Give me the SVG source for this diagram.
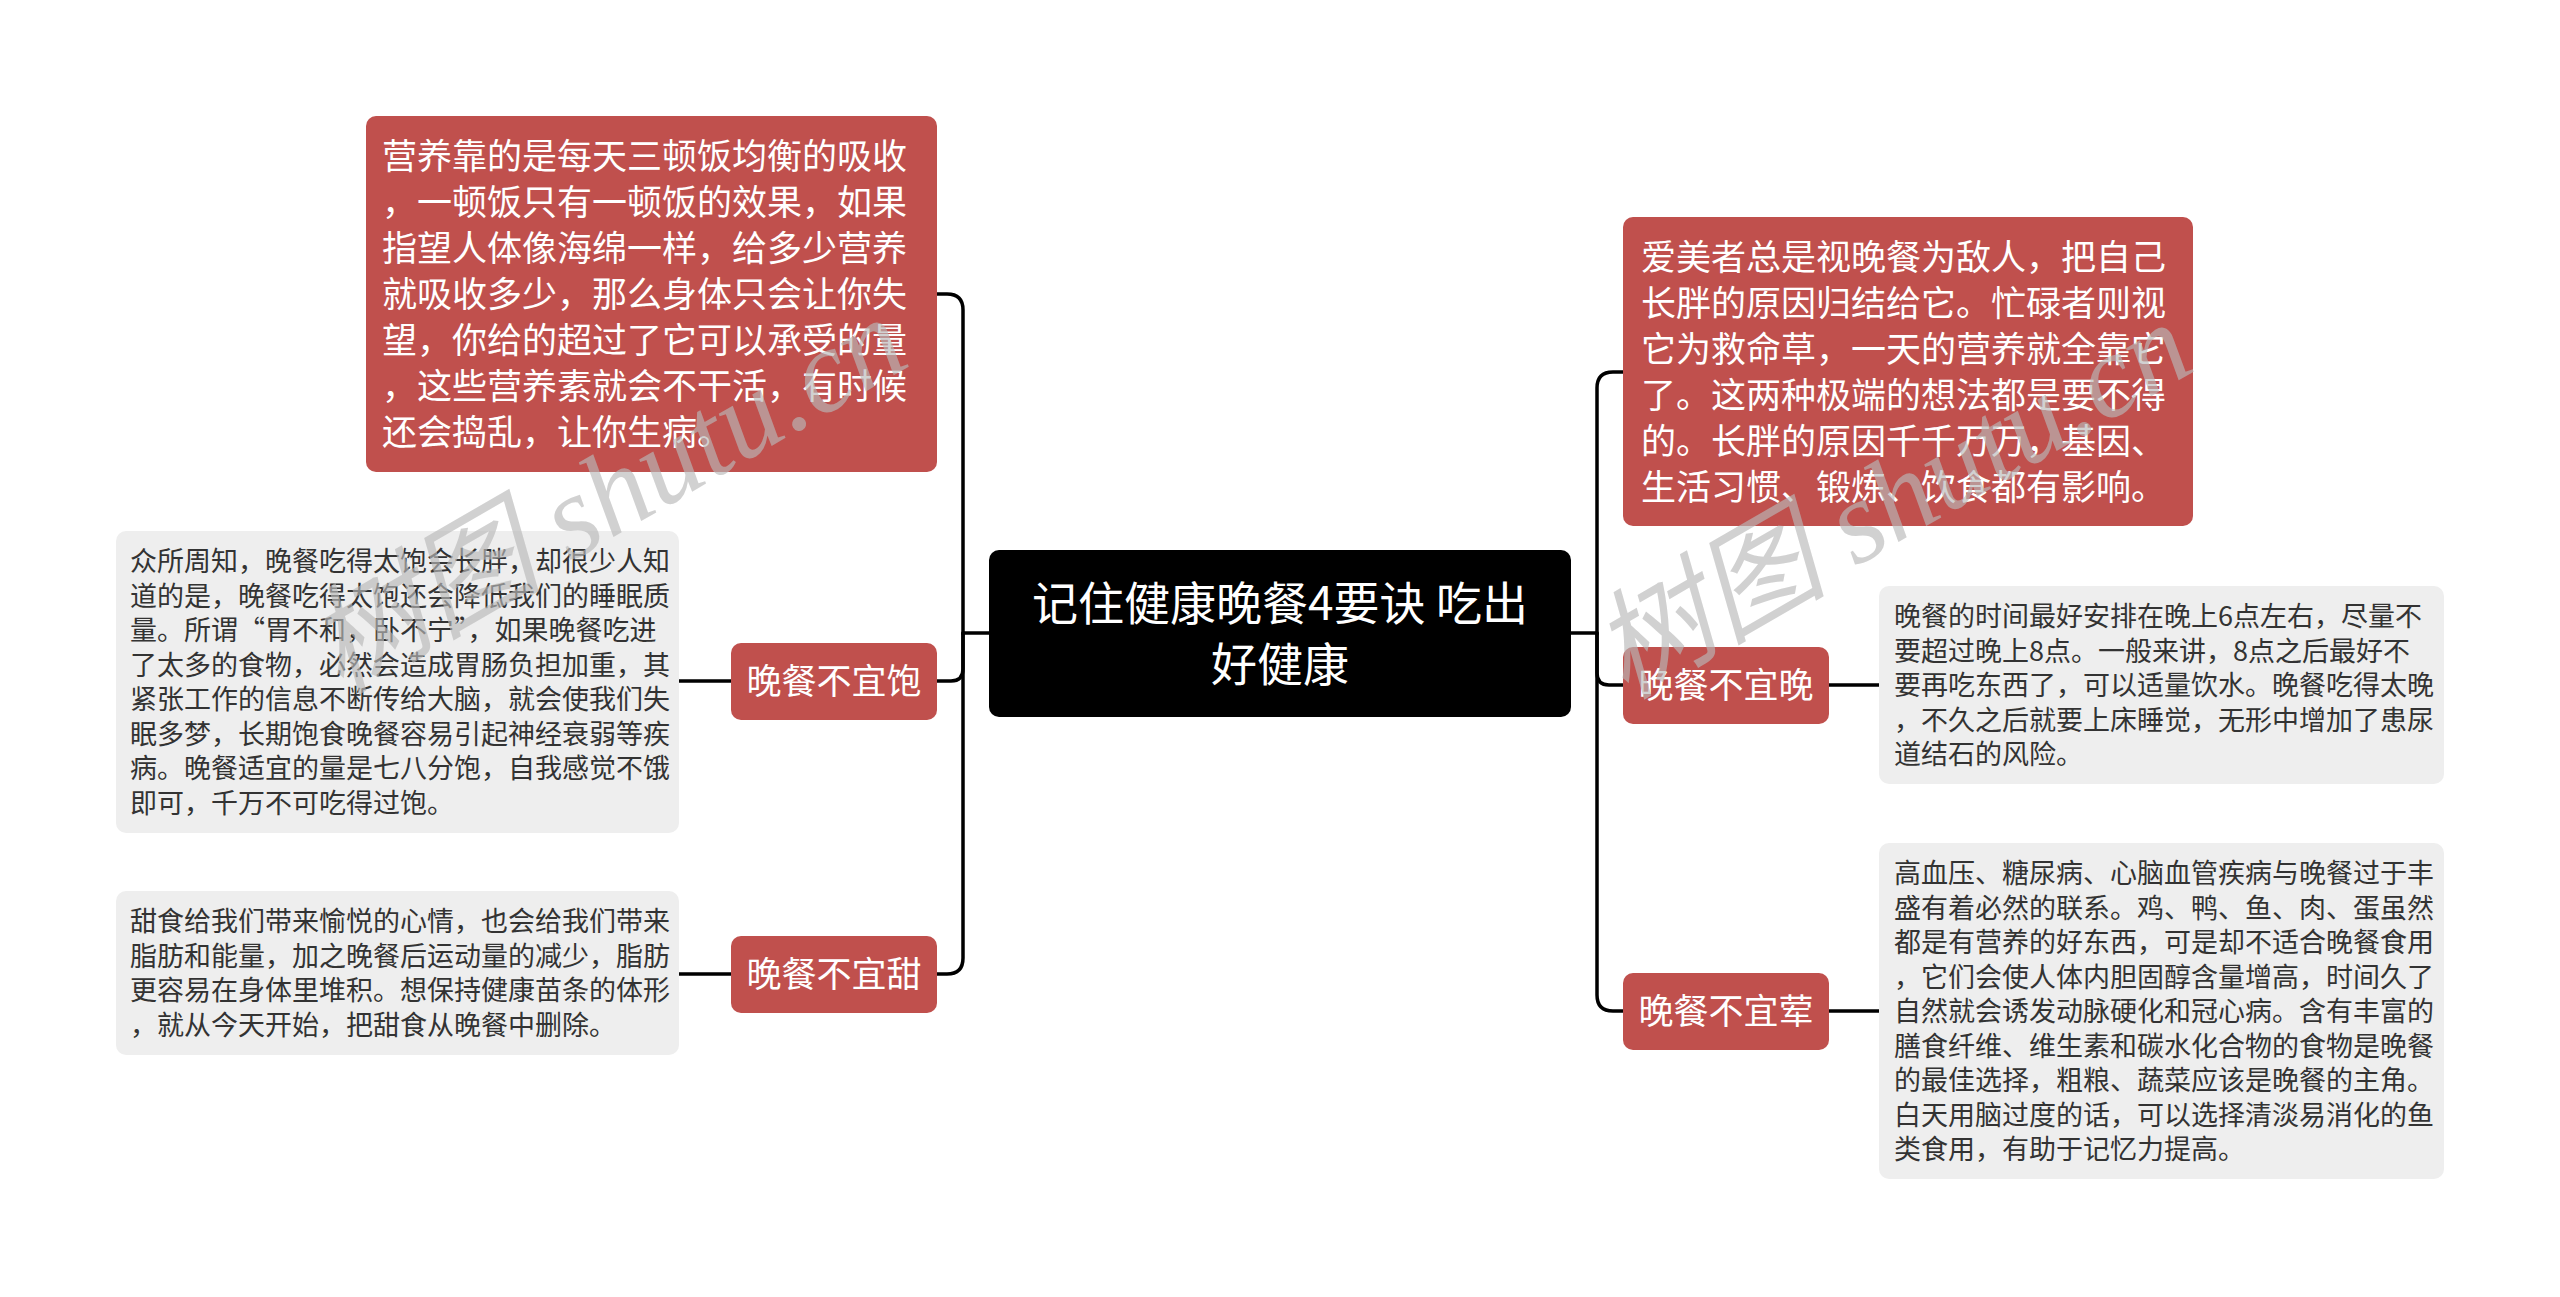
<svg xmlns="http://www.w3.org/2000/svg" width="2560" height="1297" viewBox="0 0 2560 1297">
<style>
.red{fill:#C0504D}
.gray{fill:#EEEEEE}
.root{fill:#000000}
.t{font-family:"Noto Sans CJK SC","Noto Sans",sans-serif}
.tr{fill:#FFFFFF;font-size:35px}
.tg{fill:#333333;font-size:27px}
.tc{fill:#FFFFFF;font-size:46px}
.conn{fill:none;stroke:#000000;stroke-width:3.5;stroke-linecap:round}
.wm{font-family:"Liberation Serif","Noto Sans CJK SC",serif;font-style:italic;font-size:118px;fill:#b8b8b8;fill-opacity:0.65}
</style>
<rect x="0" y="0" width="2560" height="1297" fill="#FFFFFF"/>
<g id="connectors">
<path class="conn" d="M989,633 H963 V310 Q963,294 947,294 H937"/>
<path class="conn" d="M963,633 V669 Q963,681 951,681 H937"/>
<path class="conn" d="M963,633 V958 Q963,974 947,974 H937"/>
<path class="conn" d="M1571,633 H1597 V388 Q1597,372 1613,372 H1623"/>
<path class="conn" d="M1597,633 V673 Q1597,685 1609,685 H1623"/>
<path class="conn" d="M1597,633 V995 Q1597,1011 1613,1011 H1623"/>
<path class="conn" d="M731,681 H679"/>
<path class="conn" d="M731,974 H679"/>
<path class="conn" d="M1829,685 H1879"/>
<path class="conn" d="M1829,1011 H1879"/>
</g>
<g id="root">
<rect class="root" x="989" y="550" width="582" height="167" rx="10"/>
<text class="t tc" text-anchor="middle" x="1280"><tspan x="1280" y="620">记住健康晚餐4要诀 吃出</tspan><tspan x="1280" y="681">好健康</tspan></text>
</g>
<g id="node-top-left">
<rect class="red" x="366" y="116" width="571" height="356" rx="10"/>
<text class="t tr"><tspan x="382" y="169">营养靠的是每天三顿饭均衡的吸收</tspan><tspan x="382" y="215">，一顿饭只有一顿饭的效果，如果</tspan><tspan x="382" y="261">指望人体像海绵一样，给多少营养</tspan><tspan x="382" y="307">就吸收多少，那么身体只会让你失</tspan><tspan x="382" y="353">望，你给的超过了它可以承受的量</tspan><tspan x="382" y="399">，这些营养素就会不干活，有时候</tspan><tspan x="382" y="445">还会捣乱，让你生病。</tspan></text>
</g>
<g id="node-bao">
<rect class="red" x="731" y="643" width="206" height="77" rx="10"/>
<text class="t tr" x="834" y="694" text-anchor="middle">晚餐不宜饱</text>
</g>
<g id="leaf-bao">
<rect class="gray" x="116" y="531" width="563" height="302" rx="10"/>
<text class="t tg"><tspan x="130" y="571">众所周知，晚餐吃得太饱会长胖，却很少人知</tspan><tspan x="130" y="605.5">道的是，晚餐吃得太饱还会降低我们的睡眠质</tspan><tspan x="130" y="640">量。所谓“胃不和，卧不宁”，如果晚餐吃进</tspan><tspan x="130" y="674.5">了太多的食物，必然会造成胃肠负担加重，其</tspan><tspan x="130" y="709">紧张工作的信息不断传给大脑，就会使我们失</tspan><tspan x="130" y="743.5">眠多梦，长期饱食晚餐容易引起神经衰弱等疾</tspan><tspan x="130" y="778">病。晚餐适宜的量是七八分饱，自我感觉不饿</tspan><tspan x="130" y="812.5">即可，千万不可吃得过饱。</tspan></text>
</g>
<g id="node-tian">
<rect class="red" x="731" y="936" width="206" height="77" rx="10"/>
<text class="t tr" x="834" y="987" text-anchor="middle">晚餐不宜甜</text>
</g>
<g id="leaf-tian">
<rect class="gray" x="116" y="891" width="563" height="164" rx="10"/>
<text class="t tg"><tspan x="130" y="931">甜食给我们带来愉悦的心情，也会给我们带来</tspan><tspan x="130" y="965.5">脂肪和能量，加之晚餐后运动量的减少，脂肪</tspan><tspan x="130" y="1000">更容易在身体里堆积。想保持健康苗条的体形</tspan><tspan x="130" y="1034.5">，就从今天开始，把甜食从晚餐中删除。</tspan></text>
</g>
<g id="node-top-right">
<rect class="red" x="1623" y="217" width="570" height="309" rx="10"/>
<text class="t tr"><tspan x="1641" y="269.5">爱美者总是视晚餐为敌人，把自己</tspan><tspan x="1641" y="315.5">长胖的原因归结给它。忙碌者则视</tspan><tspan x="1641" y="361.5">它为救命草，一天的营养就全靠它</tspan><tspan x="1641" y="407.5">了。这两种极端的想法都是要不得</tspan><tspan x="1641" y="453.5">的。长胖的原因千千万万，基因、</tspan><tspan x="1641" y="499.5">生活习惯、锻炼、饮食都有影响。</tspan></text>
</g>
<g id="node-wan">
<rect class="red" x="1623" y="647" width="206" height="77" rx="10"/>
<text class="t tr" x="1726" y="698" text-anchor="middle">晚餐不宜晚</text>
</g>
<g id="leaf-wan">
<rect class="gray" x="1879" y="586" width="565" height="198" rx="10"/>
<text class="t tg"><tspan x="1894" y="626">晚餐的时间最好安排在晚上6点左右，尽量不</tspan><tspan x="1894" y="660.5">要超过晚上8点。一般来讲，8点之后最好不</tspan><tspan x="1894" y="695">要再吃东西了，可以适量饮水。晚餐吃得太晚</tspan><tspan x="1894" y="729.5">，不久之后就要上床睡觉，无形中增加了患尿</tspan><tspan x="1894" y="764">道结石的风险。</tspan></text>
</g>
<g id="node-hun">
<rect class="red" x="1623" y="973" width="206" height="77" rx="10"/>
<text class="t tr" x="1726" y="1024" text-anchor="middle">晚餐不宜荤</text>
</g>
<g id="leaf-hun">
<rect class="gray" x="1879" y="843" width="565" height="336" rx="10"/>
<text class="t tg"><tspan x="1894" y="883">高血压、糖尿病、心脑血管疾病与晚餐过于丰</tspan><tspan x="1894" y="917.5">盛有着必然的联系。鸡、鸭、鱼、肉、蛋虽然</tspan><tspan x="1894" y="952">都是有营养的好东西，可是却不适合晚餐食用</tspan><tspan x="1894" y="986.5">，它们会使人体内胆固醇含量增高，时间久了</tspan><tspan x="1894" y="1021">自然就会诱发动脉硬化和冠心病。含有丰富的</tspan><tspan x="1894" y="1055.5">膳食纤维、维生素和碳水化合物的食物是晚餐</tspan><tspan x="1894" y="1090">的最佳选择，粗粮、蔬菜应该是晚餐的主角。</tspan><tspan x="1894" y="1124.5">白天用脑过度的话，可以选择清淡易消化的鱼</tspan><tspan x="1894" y="1159">类食用，有助于记忆力提高。</tspan></text>
</g>
<g id="watermark">
<text class="wm" transform="translate(340,695) rotate(-30)">树图 shutu.cn</text>
<text class="wm" transform="translate(1625,700) rotate(-30)">树图 shutu.cn</text>
</g>
</svg>
